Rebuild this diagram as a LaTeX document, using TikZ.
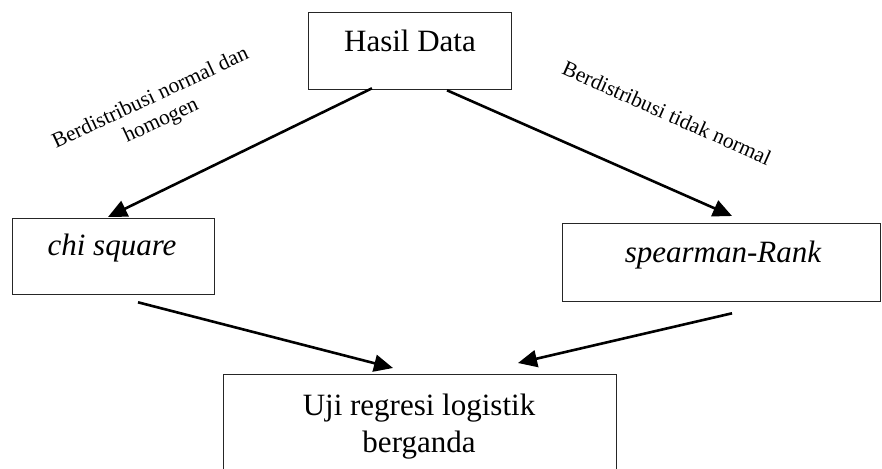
\documentclass[tikz,border=0pt]{standalone}
\usepackage{fontspec}
\setmainfont{Liberation Serif}
\usetikzlibrary{arrows.meta,calc}

\tikzset{
  box/.style={draw=black!85, line width=1.3pt, rectangle, inner sep=0pt, anchor=north west},
  boxtext/.style={anchor=base, inner sep=0pt, font=\fontsize{31}{37}\selectfont},
  edgelabel/.style={inner sep=0pt, align=center, font=\fontsize{21.5}{25}\selectfont},
  flow/.style={line width=2.6pt, -{Triangle[length=19pt,width=17pt]}}
}

\begin{document}
\begin{tikzpicture}[x=1pt,y=-1pt]
  \useasboundingbox (0,0) rectangle (882,468);

  % boxes
  \node[box, minimum width=203pt, minimum height=77pt] (hasil) at (308,12) {};
  \node[box, minimum width=202pt, minimum height=76pt] (chi) at (12,218) {};
  \node[box, minimum width=318pt, minimum height=78pt] (spear) at (562,223) {};
  \node[box, minimum width=393pt, minimum height=120pt] (uji) at (223,374) {};

  % box texts
  \node[boxtext] (thasil) at (410,52) {Hasil Data};
  \node[boxtext] (tchi) at (112,255) {\itshape chi square};
  \node[boxtext] (tspear) at (723,262) {\itshape spearman-Rank};
  \node[boxtext] (tuji1) at (419,415) {Uji regresi logistik};
  \node[boxtext] (tuji2) at (419,452) {berganda};

  % connectors
  \draw[flow] ($(hasil.south west)+(64,-2)$) -- ($(chi.north west)+(96,-1)$);
  \draw[flow] ($(hasil.south west)+(139,0)$) -- ($(spear.north west)+(170,-7)$);
  \draw[flow] ($(chi.south west)+(126,7)$) -- ($(uji.north west)+(170,-6)$);
  \draw[flow] ($(spear.south west)+(170,11)$) -- ($(uji.north west)+(295,-11)$);

  % edge labels
  \node[edgelabel, rotate=25] (lnormal) at (156,110) {Berdistribusi normal dan\\homogen};
  \node[edgelabel, rotate=-24] (ltidak) at (667,113) {Berdistribusi tidak normal};
\end{tikzpicture}
\end{document}
